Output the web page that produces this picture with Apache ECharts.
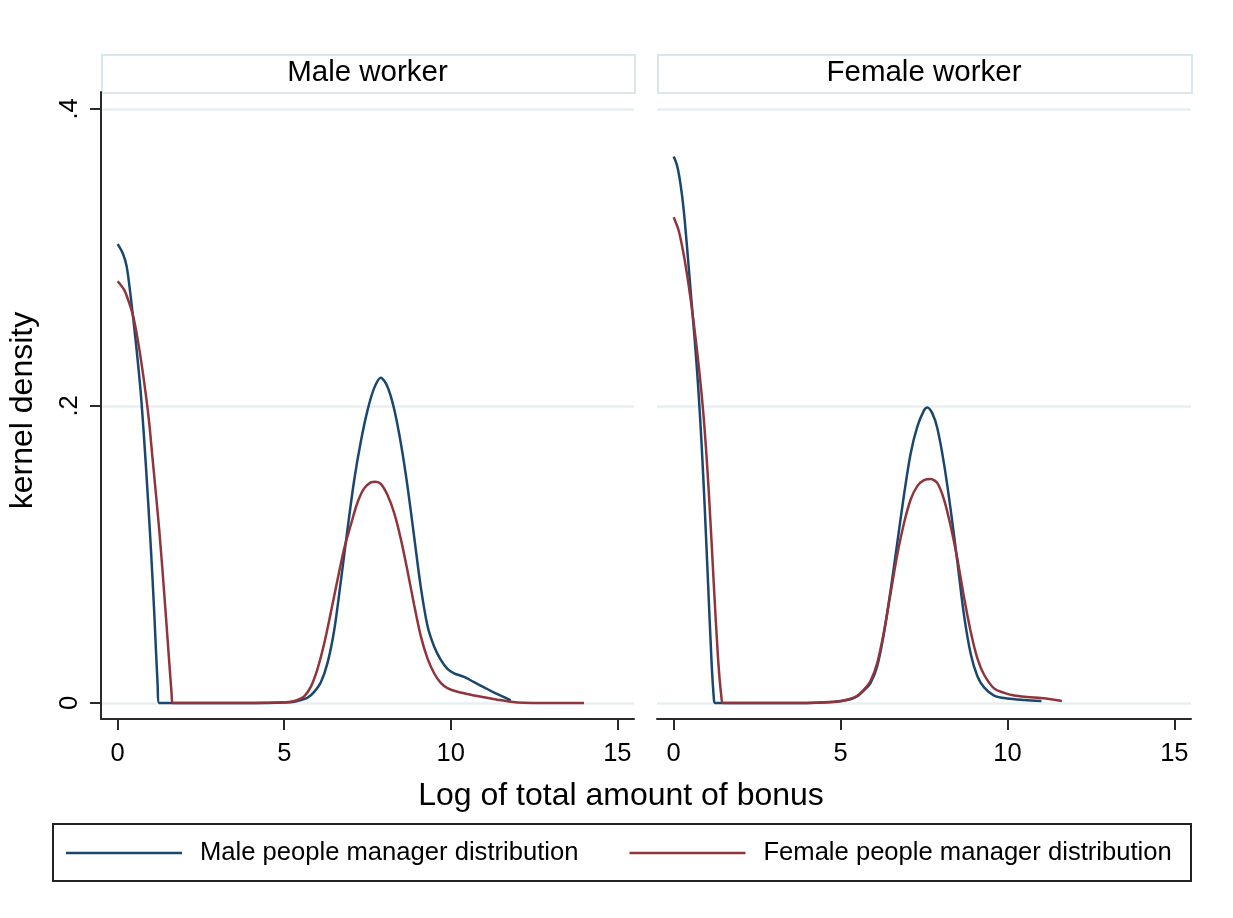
<!DOCTYPE html>
<html><head><meta charset="utf-8">
<script src="https://cdn.jsdelivr.net/npm/echarts@6/dist/echarts.min.js"></script>
<style>html,body{margin:0;padding:0;background:#fff}#c{width:1233px;height:918px}</style>
</head><body><div id="c"></div>
<script>
// ---------- data ----------
const panelTitles = ['Male worker', 'Female worker'];
const seriesNames = ['Male people manager distribution', 'Female people manager distribution'];
const xTickValues = [0, 5, 10, 15];
const yTickValues = [0, 0.2, 0.4];
const xAxisTitle = 'Log of total amount of bonus';
const yAxisTitle = 'kernel density';

// Panel 1: Male worker — male people manager distribution
const mwMaleMgrX = [0, 0.15, 0.27, 0.4, 0.55, 0.7, 0.85, 1.0, 1.1, 1.2, 1.25, 2, 3, 4, 4.5, 5, 5.3, 5.5, 5.7, 5.9, 6.1, 6.3, 6.5, 6.7, 6.9, 7.1, 7.3, 7.5, 7.7, 7.9, 8.1, 8.3, 8.5, 8.7, 8.9, 9.1, 9.3, 9.5, 9.7, 9.9, 10.1, 10.4, 10.7, 11.0, 11.3, 11.6, 11.8];
const mwMaleMgrY = [0.309, 0.303, 0.294, 0.272, 0.242, 0.207, 0.159, 0.103, 0.060, 0.012, 0, 0, 0, 0, 0, 0.0003, 0.0008, 0.002, 0.0035, 0.0075, 0.014, 0.027, 0.049, 0.082, 0.117, 0.150, 0.176, 0.197, 0.212, 0.219, 0.213, 0.198, 0.175, 0.146, 0.112, 0.078, 0.052, 0.038, 0.029, 0.023, 0.020, 0.0175, 0.014, 0.0105, 0.007, 0.004, 0.0018];

// Panel 1: Male worker — female people manager distribution
const mwFemaleMgrX = [0, 0.2, 0.35, 0.47, 0.6, 0.73, 0.85, 0.95, 1.05, 1.15, 1.25, 1.35, 1.45, 1.55, 1.62, 1.65, 2, 3, 4, 4.5, 5.0, 5.2, 5.4, 5.6, 5.8, 6.0, 6.2, 6.4, 6.6, 6.8, 7.0, 7.2, 7.4, 7.6, 7.75, 7.9, 8.1, 8.3, 8.5, 8.7, 8.9, 9.1, 9.3, 9.5, 9.7, 9.9, 10.2, 10.6, 11.0, 11.4, 11.8, 12.2, 12.6, 13.3, 14.0];
const mwFemaleMgrY = [0.284, 0.278, 0.269, 0.260, 0.245, 0.2265, 0.207, 0.188, 0.164, 0.1405, 0.116, 0.088, 0.058, 0.027, 0.006, 0, 0, 0, 0, 0.0002, 0.0005, 0.0008, 0.002, 0.0045, 0.011, 0.023, 0.040, 0.061, 0.083, 0.104, 0.120, 0.135, 0.1445, 0.1485, 0.149, 0.1475, 0.140, 0.128, 0.1105, 0.089, 0.066, 0.045, 0.030, 0.020, 0.0135, 0.010, 0.0075, 0.0055, 0.0038, 0.0022, 0.0008, 0.0001, 0, 0, 0];

// Panel 2: Female worker — male people manager distribution
const fwMaleMgrX = [0, 0.1, 0.2, 0.3, 0.4, 0.53, 0.63, 0.73, 0.83, 0.93, 1.03, 1.13, 1.2, 1.24, 2, 3, 4, 4.5, 5.0, 5.3, 5.5, 5.7, 5.9, 6.1, 6.3, 6.5, 6.7, 6.9, 7.1, 7.3, 7.5, 7.6, 7.75, 7.9, 8.1, 8.3, 8.5, 8.7, 8.9, 9.1, 9.3, 9.6, 10.0, 10.5, 11.02];
const fwMaleMgrY = [0.368, 0.362, 0.350, 0.332, 0.307, 0.2715, 0.2445, 0.214, 0.177, 0.1315, 0.0806, 0.0297, 0.004, 0, 0, 0, 0, 0.0003, 0.0012, 0.0025, 0.0045, 0.0085, 0.0135, 0.025, 0.047, 0.076, 0.108, 0.140, 0.168, 0.186, 0.197, 0.199, 0.195, 0.185, 0.161, 0.130, 0.095, 0.059, 0.033, 0.018, 0.0105, 0.005, 0.003, 0.002, 0.0013];

// Panel 2: Female worker — female people manager distribution
const fwFemaleMgrX = [0, 0.15, 0.3, 0.45, 0.6, 0.75, 0.9, 1.05, 1.2, 1.33, 1.43, 1.48, 2, 3, 4, 4.5, 5.0, 5.3, 5.5, 5.7, 5.9, 6.1, 6.3, 6.5, 6.7, 6.9, 7.1, 7.3, 7.5, 7.7, 7.9, 8.1, 8.3, 8.5, 8.7, 8.9, 9.1, 9.3, 9.6, 9.9, 10.2, 10.6, 11.0, 11.3, 11.63];
const fwFemaleMgrY = [0.327, 0.318, 0.302, 0.281, 0.256, 0.227, 0.192, 0.143, 0.0806, 0.0297, 0.004, 0, 0, 0, 0, 0.0004, 0.0013, 0.0028, 0.0048, 0.009, 0.015, 0.027, 0.048, 0.074, 0.100, 0.121, 0.137, 0.146, 0.150, 0.1508, 0.148, 0.137, 0.119, 0.097, 0.071, 0.048, 0.030, 0.019, 0.0098, 0.0068, 0.005, 0.004, 0.0033, 0.0025, 0.0013];

// ---------- styles ----------
const FONT = '"Liberation Sans", Arial, Helvetica, sans-serif';
const BLUE = '#1a476f';
const RED = '#90353b';
const GRID_C = '#e8eff2';
const AXIS_C = '#2a2a2a';
const STRIP_C = '#dbe6ea';

function zip(xs, ys) { return xs.map((x, i) => [x, ys[i]]); }
function yFmt(v) { return v === 0 ? '0' : String(+v.toFixed(2)).replace(/^0/, ''); }

const panels = [
  { left: 101, width: 533 },
  { left: 657, width: 534 }
];
const plotTop = 92, plotHeight = 627;

const grids = panels.map(p => ({ left: p.left, top: plotTop, width: p.width, height: plotHeight, containLabel: false }));

const xAxes = panels.map((p, i) => ({
  type: 'value', gridIndex: i, min: -0.5, max: 15.5,
  axisLine: { show: true, onZero: false, lineStyle: { color: AXIS_C, width: 2 } },
  axisTick: { show: true, length: 11, inside: false, customValues: xTickValues, lineStyle: { color: AXIS_C, width: 2 } },
  axisLabel: { show: true, customValues: xTickValues, margin: 22, fontSize: 25.5, color: '#000', fontFamily: FONT },
  splitLine: { show: false }
}));

const yAxes = panels.map((p, i) => ({
  type: 'value', gridIndex: i, min: -0.0108, max: 0.4114,
  name: i === 0 ? yAxisTitle : '',
  nameLocation: 'middle', nameGap: 62, nameRotate: 90,
  nameTextStyle: { fontSize: 32, color: '#000', fontFamily: FONT, padding: [0, 0, 0, -10] },
  axisLine: { show: i === 0, onZero: false, lineStyle: { color: AXIS_C, width: 2 } },
  axisTick: { show: i === 0, length: 11, customValues: yTickValues, lineStyle: { color: AXIS_C, width: 2 } },
  axisLabel: { show: i === 0, customValues: yTickValues, rotate: 90, margin: 18, fontSize: 25.5, color: '#000', fontFamily: FONT, formatter: yFmt },
  splitLine: { show: true, lineStyle: { color: GRID_C, width: 2.5 } }
}));

const seriesDefs = [
  { name: seriesNames[0], g: 0, x: mwMaleMgrX, y: mwMaleMgrY, c: BLUE },
  { name: seriesNames[1], g: 0, x: mwFemaleMgrX, y: mwFemaleMgrY, c: RED },
  { name: seriesNames[0], g: 1, x: fwMaleMgrX, y: fwMaleMgrY, c: BLUE },
  { name: seriesNames[1], g: 1, x: fwFemaleMgrX, y: fwFemaleMgrY, c: RED }
];

const series = seriesDefs.map(s => ({
  type: 'line', name: s.name, xAxisIndex: s.g, yAxisIndex: s.g,
  data: zip(s.x, s.y), showSymbol: false, symbol: 'none', smooth: 0.3,
  lineStyle: { color: s.c, width: 2.5 }, itemStyle: { color: s.c },
  silent: true, z: 3
}));

const graphics = [];
panels.forEach((p, i) => {
  graphics.push({
    type: 'rect', left: p.left, top: 54, silent: true,
    shape: { width: p.width, height: 38 },
    style: { fill: '#fff', stroke: STRIP_C, lineWidth: 2 }
  });
  graphics.push({
    type: 'text', x: p.left + p.width / 2, y: 73, silent: true,
    style: { text: panelTitles[i], fontSize: 29.5, fontFamily: FONT, fill: '#000', textAlign: 'center', textVerticalAlign: 'middle' }
  });
});
graphics.push({
  type: 'text', x: 621, y: 796, silent: true,
  style: { text: xAxisTitle, fontSize: 32, fontFamily: FONT, fill: '#000', textAlign: 'center', textVerticalAlign: 'middle' }
});
graphics.push({
  type: 'rect', left: 52, top: 823, silent: true, z: -1,
  shape: { width: 1138, height: 57 },
  style: { fill: '#fff', stroke: '#222', lineWidth: 2 }
});

const chart = echarts.init(document.getElementById('c'), null, { renderer: 'canvas' });
chart.setOption({
  animation: false,
  backgroundColor: '#fff',
  grid: grids,
  xAxis: xAxes,
  yAxis: yAxes,
  series: series,
  legend: {
    data: seriesNames,
    left: 66, top: 840, padding: 0,
    icon: 'rect', itemWidth: 116, itemHeight: 2.5, itemGap: 51,
    textStyle: { fontSize: 25.6, color: '#000', fontFamily: FONT, padding: [0, 0, 0, 13] },
    selectedMode: false
  },
  graphic: graphics
});
</script>
</body></html>
